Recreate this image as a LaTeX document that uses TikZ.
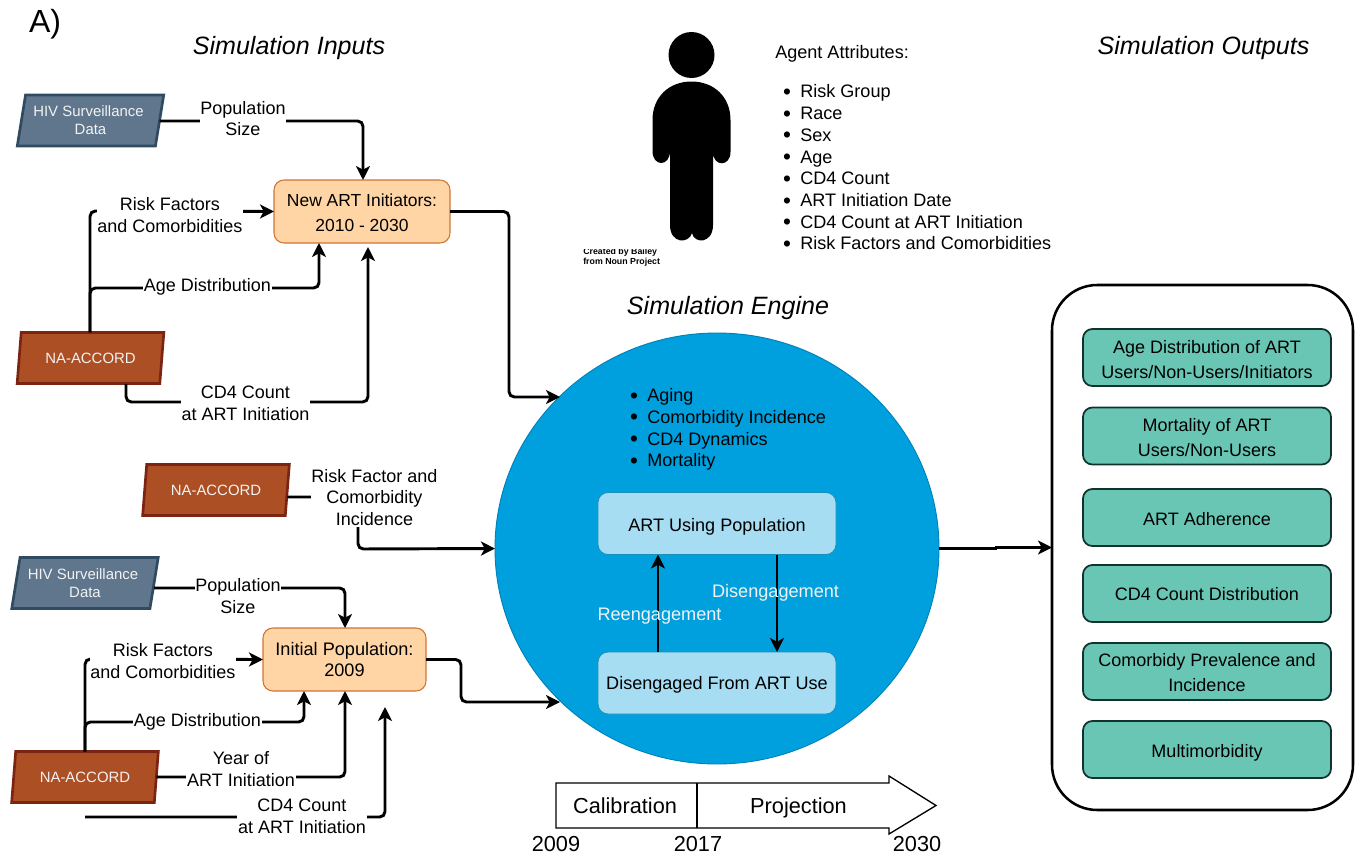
\documentclass[tikz,border=0pt]{standalone}
\usepackage{fontspec}
\setmainfont{Liberation Sans}
\usetikzlibrary{arrows.meta,shapes.geometric}
\definecolor{hivfill}{HTML}{5F768C}
\definecolor{hivline}{HTML}{304A61}
\definecolor{nafill}{HTML}{AD4F24}
\definecolor{naline}{HTML}{7A2411}
\definecolor{orfill}{HTML}{FFD5A6}
\definecolor{orline}{HTML}{CF7434}
\definecolor{engfill}{HTML}{00A0DF}
\definecolor{engline}{HTML}{0082B8}
\definecolor{popfill}{HTML}{A6DDF2}
\definecolor{popline}{HTML}{1C8FB8}
\definecolor{grfill}{HTML}{6AC6B4}
\definecolor{grline}{HTML}{10332D}
\definecolor{lighttext}{HTML}{F2F2F2}
\tikzset{
  x=0.75pt,y=-0.75pt,
  boxsize/.style 2 args={minimum width=#1*0.75pt,minimum height=#2*0.75pt,inner sep=0pt,outer sep=0pt},
  para/.style={trapezium,trapezium left angle=76,trapezium right angle=104,trapezium stretches=true,boxsize={147}{51},line width=2pt,align=center,text=lighttext,font=\fontsize{11.2}{13.7}\selectfont},
  hivbox/.style={para,draw=hivline,fill=hivfill},
  nabox/.style={para,draw=naline,fill=nafill},
  orbox/.style={draw=orline,fill=orfill,line width=0.8pt,rounded corners=7.5pt,align=center,font=\fontsize{13.1}{18.8}\selectfont},
  popbox/.style={draw=popline,fill=popfill,line width=0.6pt,rounded corners=7.5pt,boxsize={238}{62}},
  poptext/.style={inner sep=0pt,font=\fontsize{13.55}{16.3}\selectfont},
  grbox/.style={draw=grline,fill=grfill,line width=1.3pt,rounded corners=7pt,boxsize={248}{57}},
  grtext/.style={inner sep=0pt,align=center,font=\fontsize{13.5}{18.8}\selectfont},
  lab/.style={fill=white,inner sep=0.6pt,align=center,font=\fontsize{13.5}{16.3}\selectfont},
  lightlab/.style={text=lighttext,inner sep=0pt,font=\fontsize{13.6}{16.3}\selectfont},
  title/.style={inner sep=0pt,font=\fontsize{18.8}{22}\selectfont\itshape},
  item/.style={anchor=west,inner sep=0pt,text height=9.6pt,text depth=2.8pt,font=\fontsize{13.55}{16.3}\selectfont},
  conn/.style={line width=2.2pt,rounded corners=4pt,-{Stealth[length=10.5pt,width=10.5pt,inset=2.8pt]}},
  tl/.style={inner sep=0pt,font=\fontsize{16.3}{19}\selectfont},
}
\newcommand{\blt}{\llap{\raisebox{-1.2pt}{\scalebox{1.25}{•}}\hspace{7pt}}}
\begin{document}
\begin{tikzpicture}
\path[use as bounding box] (0,0) rectangle (1361,857);

% --- engine
\node[ellipse,draw=engline,fill=engfill,line width=0.7pt,minimum width=444*0.75pt,minimum height=431*0.75pt,inner sep=0pt,outer sep=0pt] (engine) at (717,548.5) {};
\node[popbox] (using) at (717,523.5) {};
\node[poptext] (usingt) at (717,526.5) {ART Using Population};
\node[popbox] (diseng) at (717,683) {};
\node[poptext] (disengt) at (717,685) {Disengaged From ART Use};

% --- input sources and targets
\node[hivbox] (hivA) at (90.5,120.5) {HIV Surveillance\hspace*{3pt}\\Data};
\node[nabox] (naA) at (90.5,358) {NA-ACCORD};
\node[nabox] (naB) at (216,490) {NA-ACCORD};
\node[hivbox] (hivB) at (85,583) {HIV Surveillance\hspace*{3pt}\\Data};
\node[nabox] (naC) at (85,777) {NA-ACCORD};
\node[orbox,boxsize={176}{63}] (newart) at (362,211.5) {};
\node[inner sep=0pt,align=center,font=\fontsize{13.1}{18.8}\selectfont] (newartt) at (362,212.5) {New ART Initiators:\\2010 - 2030};
\node[orbox,boxsize={163}{63},font=\fontsize{13.6}{16.3}\selectfont] (initpop) at (344.5,659.5) {Initial Population:\\2009};

% --- outputs
\node[draw=black,line width=1.9pt,rounded corners=34pt,boxsize={301}{525}] (outputs) at (1202.5,547.5) {};
\node[grbox] (o1) at (1207,357.5) {};
\node[grtext] (o1t) at (1207,359.5) {Age Distribution of ART\\Users/Non-Users/Initiators};
\node[grbox] (o2) at (1207,436) {};
\node[grtext] (o2t) at (1207,438) {Mortality of ART\\Users/Non-Users};
\node[grbox] (o3) at (1207,517.5) {};
\node[grtext] (o3t) at (1207,519.5) {ART Adherence};
\node[grbox] (o4) at (1207,593.5) {};
\node[grtext] (o4t) at (1207,594.5) {CD4 Count Distribution};
\node[grbox] (o5) at (1207,671.5) {};
\node[grtext] (o5t) at (1207,672.5) {Comorbidy Prevalence and\\Incidence};
\node[grbox] (o6) at (1207,749.5) {};
\node[grtext] (o6t) at (1207,752.5) {Multimorbidity};

% --- free connector ends
\coordinate (engNW) at (560,397);
\coordinate (engSW) at (560,702);
\coordinate (cdfourA) at (368,247);
\coordinate (cdfourB) at (385,707);
\coordinate (cdfourStart) at (85,817);
\coordinate (naAbot) at (126,384);

% --- connectors
\draw[conn] (hivA.east |- 0,121) -- (363,121) -- (newart.north -| 363,0);
\draw[conn] (naA.north -| 90,0) -- (90,211) -- (newart.west);
\draw[conn] (naA.north -| 90,0) -- (90,288) -- (319,288) -- (newart.south -| 319,0);
\draw[conn] (naAbot) -- (126,402) -- (368,402) -- (cdfourA);
\draw[conn] (newart.east) -- (509,211.5) -- (509,397) -- (engNW);
\draw[conn] (naB.east |- 0,497) -- (358,497) -- (358,549) -- (engine.west);
\draw[conn] (hivB.east |- 0,588) -- (345,588) -- (initpop.north -| 345,0);
\draw[conn] (naC.north -| 85,0) -- (85,659) -- (initpop.west);
\draw[conn] (naC.north -| 85,0) -- (85,722) -- (304,722) -- (initpop.south -| 304,0);
\draw[conn] (naC.east |- 0,777) -- (345,777) -- (initpop.south -| 345,0);
\draw[conn] (cdfourStart) -- (385,817) -- (cdfourB);
\draw[conn] (initpop.east) -- (461,659.5) -- (461,702) -- (engSW);
\draw[conn,rounded corners=0pt] (engine.east) -- (996,548.5) -- (996,547.5) -- (outputs.west);
\draw[conn] (diseng.north -| 658,0) -- (using.south -| 658,0);
\draw[conn] (using.south -| 777,0) -- (diseng.north -| 777,0);

% --- connector labels
\node[lab] (l1) at (243,118.5) {Population\\Size};
\node[lab] (l2) at (170,215) {Risk Factors\\and Comorbidities};
\node[lab] (l3) at (207.5,286.5) {Age Distribution};
\node[lab] (l4) at (245.5,403) {CD4 Count\\at ART Initiation};
\node[lab] (l5) at (374.5,497.5) {Risk Factor and\\Comorbidity\\Incidence};
\node[lab] (l6) at (238,596) {Population\\Size};
\node[lab] (l7) at (163,661) {Risk Factors\\and Comorbidities};
\node[lab] (l8) at (197.5,721.5) {Age Distribution};
\node[lab] (l9) at (241,769) {Year of\\ART Initiation};
\node[lab] (l10) at (302,816.5) {CD4 Count\\at ART Initiation};
\node[lightlab] (l11) at (659.5,616.5) {Reengagement};
\node[lightlab] (l12) at (775.5,592.5) {Disengagement};

% --- titles
\node[inner sep=0pt,font=\fontsize{24}{28}\selectfont] (atag) at (45,24.5) {A)};
\node[title] (t1) at (289,48.5) {Simulation Inputs};
\node[title] (t2) at (728,308.5) {Simulation Engine};
\node[title] (t3) at (1203.5,48.5) {Simulation Outputs};

% --- agent figure
\node[circle,fill=black,minimum size=46*0.75pt,inner sep=0pt] (head) at (691.5,55) {};
\fill[black] (652.5,120)
  .. controls (652.5,97) and (669,81.5) .. (691.5,81.5)
  .. controls (714,81.5) and (730.5,97) .. (730.5,120)
  -- (730.5,152)
  .. controls (730.5,167) and (713,167) .. (713,152)
  -- (713,225)
  .. controls (713,244) and (694,244) .. (692,233)
  .. controls (689,244) and (670,244) .. (670,225)
  -- (670,151)
  .. controls (670,167) and (652.5,167) .. (652.5,151) -- cycle;
\begin{scope}
\clip (575,249.8) rectangle (680,270);
\node[inner sep=0pt,align=left,anchor=north west,font=\fontsize{6.6}{7.5}\selectfont\bfseries] (credit) at (583,247.5) {Created by Bailey\\from Noun Project};
\end{scope}

% --- attributes
\node[inner sep=0pt,font=\fontsize{13.55}{16.3}\selectfont,anchor=west] (attr) at (775,54) {Agent Attributes:};
\node[item] (a1) at (800,93) {\blt Risk Group};
\node[item] (a2) at (800,115) {\blt Race};
\node[item] (a3) at (800,136.5) {\blt Sex};
\node[item] (a4) at (800,158.5) {\blt Age};
\node[item] (a5) at (800,180) {\blt CD4 Count};
\node[item] (a6) at (800,202) {\blt ART Initiation Date};
\node[item] (a7) at (800,223.5) {\blt CD4 Count at ART Initiation};
\node[item] (a8) at (800,245) {\blt Risk Factors and Comorbidities};

% --- processes
\node[item] (p1) at (647,397) {\blt Aging};
\node[item] (p2) at (647,418.5) {\blt Comorbidity Incidence};
\node[item] (p3) at (647,440.5) {\blt CD4 Dynamics};
\node[item] (p4) at (647,462) {\blt Mortality};

% --- timeline
\draw[black,line width=1pt,fill=white] (556,783) -- (889,783) -- (889,776) -- (936,805.5) -- (889,834) -- (889,828) -- (556,828) -- cycle;
\draw[black,line width=1pt] (697,783) -- (697,828);
\node[tl] (c1) at (625,806) {Calibration};
\node[tl] (c2) at (798.5,808) {Projection};
\node[tl] (y1) at (556,844.5) {2009};
\node[tl] (y2) at (698,844) {2017};
\node[tl] (y3) at (917,844) {2030};
\end{tikzpicture}
\end{document}
